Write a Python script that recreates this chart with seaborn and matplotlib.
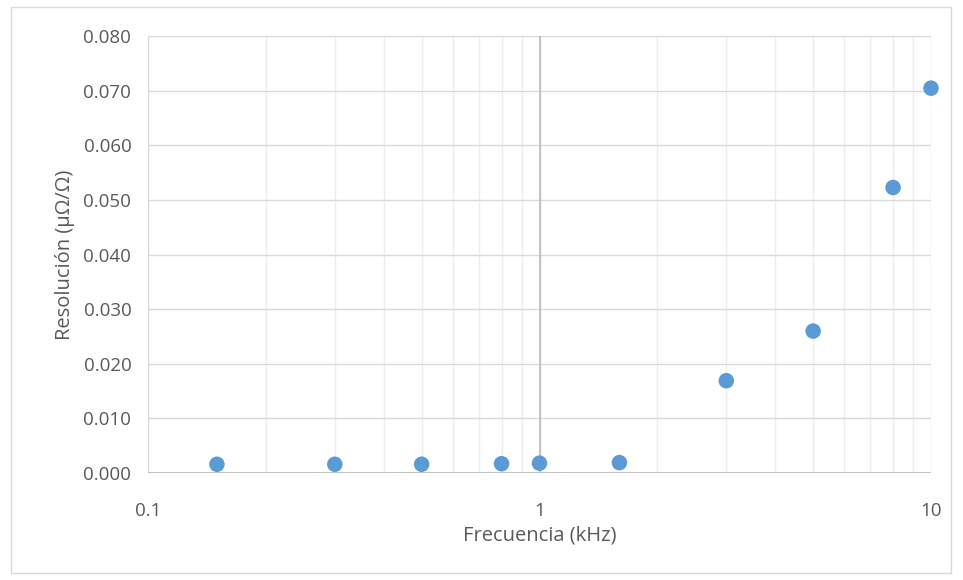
import numpy as np
import pandas as pd
import seaborn as sns
import matplotlib.pyplot as plt
from matplotlib.ticker import FixedLocator, FuncFormatter, NullFormatter
from matplotlib.patches import Rectangle

# frequency (kHz) and resolution (µΩ/Ω)
freq = [0.15, 0.3, 0.5, 0.8, 1.0, 1.6, 3.0, 5.0, 8.0, 10.0]
resol = [0.0016, 0.0016, 0.0016, 0.0017, 0.0018, 0.0019, 0.0169, 0.0260, 0.0523, 0.0705]
x_ticks = [0.1, 1, 10]
y_ticks = [0.0, 0.01, 0.02, 0.03, 0.04, 0.05, 0.06, 0.07, 0.08]

df = pd.DataFrame({'Frecuencia': freq, 'Resolucion': resol})

sns.set_style('white')
plt.rcParams['font.family'] = ['Open Sans', 'DejaVu Sans']
txt = '#595959'

fig = plt.figure(figsize=(9.63, 5.8), dpi=100)
ax = fig.add_axes([148/963, 1 - 473/580, (931-148)/963, (473-36.3)/580])

# outer chart border
fig.patches.append(Rectangle((11/963, 7/580), 940/963, 566/580, transform=fig.transFigure,
                             fill=False, edgecolor='#D9D9D9', linewidth=1))

ax.set_xscale('log')
ax.set_xlim(0.1, 10)
ax.set_ylim(0, 0.08)

minor = [m * d for d in (0.1, 1) for m in range(2, 10)]
ax.xaxis.set_major_locator(FixedLocator(x_ticks))
ax.xaxis.set_minor_locator(FixedLocator(minor))
ax.xaxis.set_major_formatter(FuncFormatter(lambda v, p: f'{v:g}'))
ax.xaxis.set_minor_formatter(NullFormatter())
ax.yaxis.set_major_locator(FixedLocator(y_ticks))
ax.yaxis.set_major_formatter(FuncFormatter(lambda v, p: f'{v:.3f}'))

ax.grid(which='major', axis='both', color='#D9D9D9', linewidth=1)
ax.grid(which='minor', axis='x', color='#EDEDED', linewidth=1)
ax.set_axisbelow(True)

for s in ax.spines.values():
    s.set_visible(False)
ax.axhline(0, color='#BFBFBF', linewidth=1.3, zorder=1)
ax.axvline(1, color='#BFBFBF', linewidth=1.3, zorder=1)

sns.scatterplot(data=df, x='Frecuencia', y='Resolucion', ax=ax, s=125,
                color='#5B9BD5', edgecolor='none', zorder=3, clip_on=False)

ax.tick_params(which='both', length=0, colors=txt, labelsize=13.5)
ax.tick_params(axis='x', pad=21)
ax.tick_params(axis='y', pad=12)
ax.set_xlabel('Frecuencia (kHz)', color=txt, fontsize=14.5, labelpad=4)
ax.set_ylabel('Resolución (μΩ/Ω)', color=txt, fontsize=14.5, labelpad=6)

fig.savefig('out.png', dpi=100)
